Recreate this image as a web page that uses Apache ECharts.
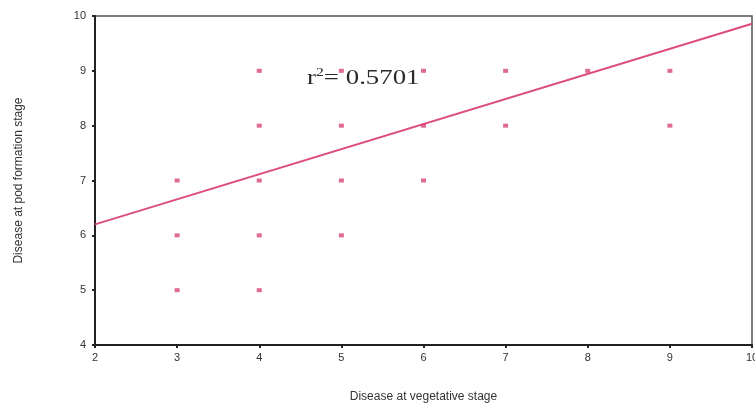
<!DOCTYPE html>
<html>
<head>
<meta charset="utf-8">
<script src="https://cdn.jsdelivr.net/npm/echarts@6/dist/echarts.min.js"></script>
<style>
  html, body { margin: 0; padding: 0; background: #fff; }
  #chart { width: 755px; height: 409px; }
</style>
</head>
<body>
<div id="chart"></div>
<script>
// Disease scores: vegetative stage (x) vs pod formation stage (y)
const vegetativeScores = [3, 3, 3, 4, 4, 4, 4, 4, 5, 5, 5, 5, 6, 6, 6, 7, 7, 8, 9, 9];
const podScores        = [7, 6, 5, 9, 8, 7, 6, 5, 9, 8, 7, 6, 9, 8, 7, 9, 8, 9, 9, 8];

// Fitted regression line end points
const fitX = [2, 10];
const fitY = [6.2, 9.86];
const rSquaredText = '0.5701';

const xTicks = [2, 3, 4, 5, 6, 7, 8, 9, 10];
const yTicks = [4, 5, 6, 7, 8, 9, 10];

const points = vegetativeScores.map((x, i) => [x, podScores[i]]);
const fitLine = fitX.map((x, i) => [x, fitY[i]]);

const markColor = '#d6457a';
const sansFont = 'Liberation Sans, Arial, sans-serif';
const serifFont = 'Liberation Serif, Times New Roman, serif';
const axisFont = { fontFamily: sansFont, fontSize: 11, color: '#333' };

const chart = echarts.init(document.getElementById('chart'));
chart.setOption({
  backgroundColor: '#fff',
  animation: false,
  grid: {
    left: 95, right: 3, top: 16, bottom: 64,
    outerBoundsMode: 'none',
    show: true, borderColor: '#555', borderWidth: 1.5, backgroundColor: '#fff'
  },
  xAxis: {
    type: 'value',
    min: xTicks[0], max: xTicks[xTicks.length - 1], interval: 1,
    name: 'Disease at vegetative stage',
    nameLocation: 'middle', nameGap: 46,
    nameTextStyle: { fontFamily: sansFont, fontSize: 12, color: '#333' },
    axisLine: { show: true, onZero: false, lineStyle: { color: '#222', width: 2 } },
    axisTick: { show: true, length: 3, lineStyle: { color: '#222', width: 2 } },
    axisLabel: Object.assign({ margin: 7 }, axisFont),
    splitLine: { show: false }
  },
  yAxis: {
    type: 'value',
    min: yTicks[0], max: yTicks[yTicks.length - 1], interval: 1,
    name: 'Disease at pod formation stage',
    nameLocation: 'middle', nameGap: 70,
    nameTextStyle: { fontFamily: sansFont, fontSize: 12, color: '#333' },
    axisLine: { show: true, onZero: false, lineStyle: { color: '#222', width: 2 } },
    axisTick: { show: true, length: 3, lineStyle: { color: '#222', width: 2 } },
    axisLabel: Object.assign({ margin: 9 }, axisFont),
    splitLine: { show: false }
  },
  series: [
    {
      type: 'scatter',
      data: points,
      symbol: 'rect',
      symbolSize: [5, 4],
      itemStyle: { color: markColor },
      z: 3
    },
    {
      type: 'line',
      data: fitLine,
      symbol: 'none',
      lineStyle: { color: '#dc4e78', width: 2 },
      z: 2
    }
  ],
  graphic: [{
    type: 'text',
    x: 307,
    y: 66,
    scaleX: 1.22,
    originX: 0,
    z: 1,
    style: {
      text: '{r|r}{sup|2}{r|= ' + rSquaredText + '}',
      rich: {
        r: { fontFamily: serifFont, fontSize: 22, fill: '#2a2a2a', lineHeight: 24 },
        sup: { fontFamily: serifFont, fontSize: 13, fill: '#2a2a2a', lineHeight: 24, verticalAlign: 'top', padding: [0, 0, 0, 0] }
      }
    }
  }]
});
</script>
</body>
</html>
